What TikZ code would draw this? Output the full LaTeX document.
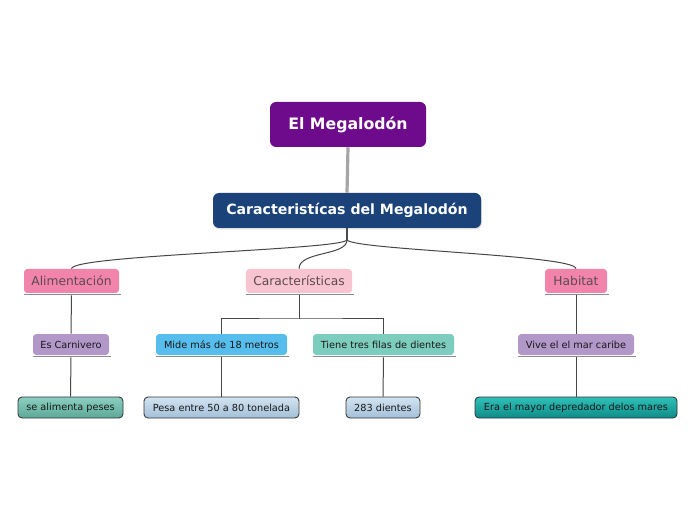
\documentclass[tikz,border=0pt]{standalone}
\usepackage{fontspec}
\setmainfont{DejaVu Sans}
\usetikzlibrary{shadows}
\definecolor{cPurple}{HTML}{6E0B8C}
\definecolor{cNavy}{HTML}{1C4379}
\definecolor{cPink}{HTML}{F283AB}
\definecolor{cLPink}{HTML}{F9C4D1}
\definecolor{cLav}{HTML}{B297C9}
\definecolor{cSky}{HTML}{56BDEC}
\definecolor{cMint}{HTML}{7DCDBF}
\definecolor{cTxtG}{HTML}{5B4B50}
\definecolor{gTealT}{HTML}{8ACFC1}
\definecolor{gTealB}{HTML}{5EA898}
\definecolor{gBlueT}{HTML}{D2E3F0}
\definecolor{gBlueB}{HTML}{A3C0D8}
\definecolor{gDTealT}{HTML}{30C0B8}
\definecolor{gDTealB}{HTML}{0E8C88}
\tikzset{
  topbox/.style={rounded corners=4.5pt, inner sep=0pt, text=white, font=\bfseries},
  midbox/.style={rounded corners=2.5pt, inner sep=0pt, minimum height=18pt, text=cTxtG, font=\fontsize{9.2pt}{11pt}\selectfont},
  subbox/.style={rounded corners=2.5pt, inner sep=0pt, minimum height=15.75pt, text=black!90, font=\fontsize{7.3pt}{9pt}\selectfont},
  leafbox/.style={rounded corners=3pt, inner sep=0pt, minimum height=15.75pt, draw=black!80, line width=0.65pt, text=black!90, font=\fontsize{7.3pt}{9pt}\selectfont, shading=axis, shading angle=0},
  uline/.style={draw=black!45, line width=1.1pt},
  conn/.style={draw=black!72, line width=0.75pt},
}
\begin{document}
\begin{tikzpicture}[x=0.75pt, y=-0.75pt]
\useasboundingbox (0,0) rectangle (696,520);
% top nodes
\node[topbox, fill=cPurple, minimum width=117pt, minimum height=33.75pt, font=\bfseries\fontsize{11.8pt}{14pt}\selectfont] (root) at (348,124.5) {El Megalodón};
\node[topbox, fill=cNavy, minimum width=201pt, minimum height=26.25pt, font=\bfseries\fontsize{10.6pt}{13pt}\selectfont, drop shadow={shadow xshift=0.6pt, shadow yshift=-1pt, opacity=0.25}] (car) at (347,210.5) {Caracteristícas del Megalodón};
% mid nodes
\node[midbox, fill=cPink, minimum width=71.25pt] (alim) at (71.5,281) {Alimentación};
\node[midbox, fill=cLPink, minimum width=79.5pt] (carac) at (299,281) {Características};
\node[midbox, fill=cPink, minimum width=46.5pt] (hab) at (576,281) {Habitat};
% sub nodes
\node[subbox, fill=cLav, minimum width=57pt] (esc) at (71,344.5) {Es Carnivero};
\node[subbox, fill=cSky, minimum width=98.25pt] (mide) at (221.5,344.5) {Mide más de 18 metros};
\node[subbox, fill=cMint, minimum width=105.75pt] (tiene) at (383.5,344.5) {Tiene tres filas de dientes};
\node[subbox, fill=cLav, minimum width=87pt] (vive) at (576,344.5) {Vive el el mar caribe};
% leaves
\node[leafbox, top color=gTealT, bottom color=gTealB, minimum width=78.75pt] (sea) at (70.5,407.5) {se alimenta peses};
\node[leafbox, top color=gBlueT, bottom color=gBlueB, minimum width=116.25pt] (pesa) at (221.5,407.5) {Pesa entre 50 a 80 tonelada};
\node[leafbox, top color=gBlueT, bottom color=gBlueB, minimum width=55.5pt] (dien) at (383,407.5) {283 dientes};
\node[leafbox, top color=gDTealT, bottom color=gDTealB, minimum width=151.5pt] (era) at (576,407.5) {Era el mayor depredador delos mares};
% underlines
\foreach \n in {alim,carac,hab,esc,mide,tiene,vive}{
  \draw[uline] ([yshift=-0.9pt]\n.south west) -- ([xshift=1pt,yshift=-0.9pt]\n.south east);
}
% connectors
\draw[draw=black!35, line width=2.4pt] (root.south) -- (car.north);
\coordinate (hub) at (347,240);
\draw[draw=black!70, line width=1.4pt] (car.south) -- (hub);
\draw[conn] (hub) .. controls (340,250) and (71.5,255) .. (alim.north);
\draw[conn] (hub) .. controls (347,256) and (299,251) .. (carac.north);
\draw[conn] (hub) .. controls (355,250) and (576,255) .. (hab.north);
\coordinate (cj) at (299,319);
\draw[conn] ([yshift=-1.5pt]carac.south) -- (cj);
\draw[conn] (mide.north) |- (cj) -| (tiene.north);
\draw[conn] ([yshift=-1.5pt]alim.south) -- (esc.north);
\draw[conn] ([yshift=-1.5pt]hab.south) -- (vive.north);
\draw[conn] ([yshift=-1.5pt]esc.south) -- (sea.north);
\draw[conn] ([yshift=-1.5pt]mide.south) -- (pesa.north);
\draw[conn] ([yshift=-1.5pt]tiene.south) -- (dien.north);
\draw[conn] ([yshift=-1.5pt]vive.south) -- (era.north);
\end{tikzpicture}
\end{document}
